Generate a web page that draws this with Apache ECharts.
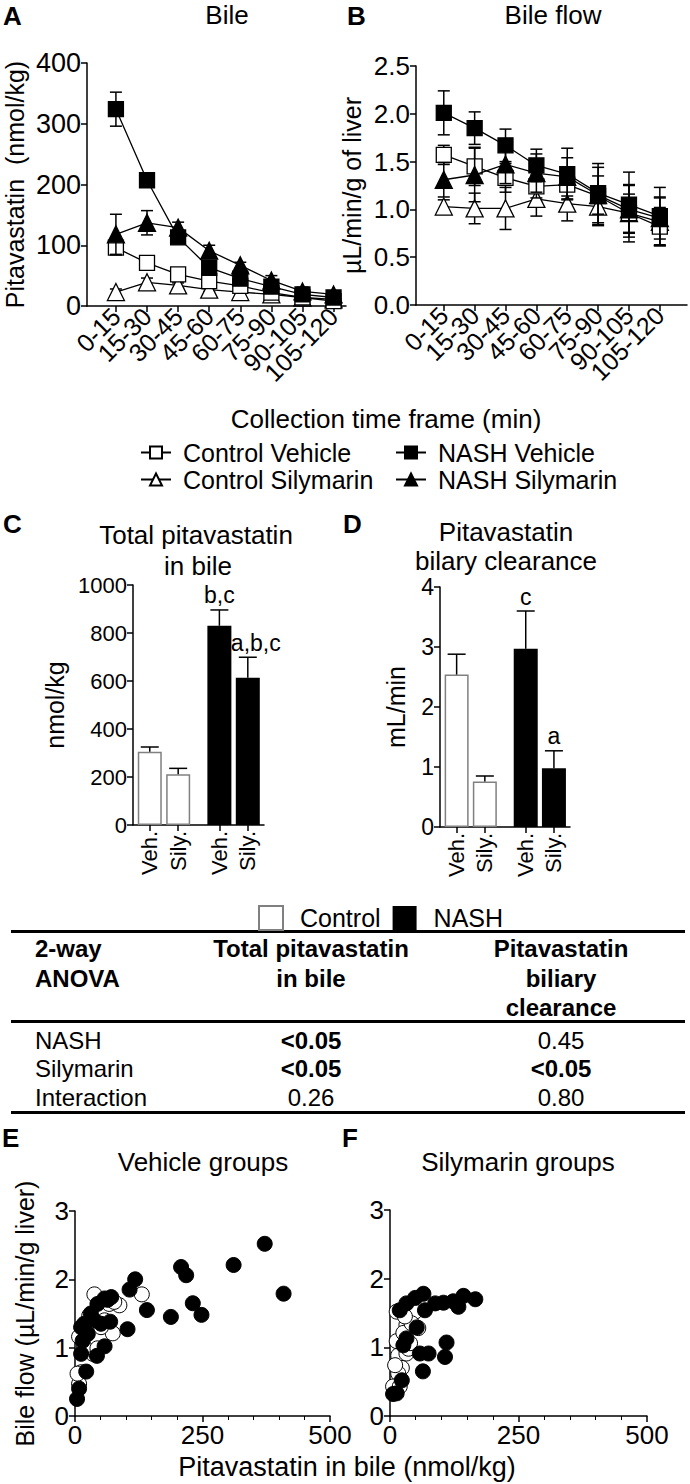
<!DOCTYPE html>
<html>
<head>
<meta charset="utf-8">
<script src="https://cdn.jsdelivr.net/npm/echarts@6/dist/echarts.min.js"></script>
<style>
html, body { margin: 0; padding: 0; background: #fff; }
#fig { width: 690px; height: 1484px; }
</style>
</head>
<body>
<div id="fig"></div>
<script>
// ---- data ----
var timeFrames = ['0-15', '15-30', '30-45', '45-60', '60-75', '75-90', '90-105', '105-120'];

// A: pitavastatin in bile (nmol/kg), mean and SEM
var ctrlVehA = [96, 71, 52, 41, 33, 22, 14, 8];
var ctrlVehASem = [12, 4, 4, 3, 3, 3, 2, 2];
var ctrlSilA = [23, 39, 34, 27, 23, 19, 14, 11];
var ctrlSilASem = [5, 7, 4, 3, 3, 2, 2, 2];
var nashVehA = [324, 207, 113, 63, 45, 32, 19, 14];
var nashVehASem = [28, 6, 6, 5, 5, 4, 3, 2];
var nashSilA = [118, 137, 129, 91, 67, 42, 24, 19];
var nashSilASem = [33, 20, 9, 9, 5, 8, 7, 4];

// B: bile flow (uL/min/g liver)
var ctrlVehB = [1.57, 1.45, 1.33, 1.24, 1.26, 1.14, 0.96, 0.82];
var ctrlVehBSem = [0.1, 0.2, 0.15, 0.12, 0.15, 0.3, 0.3, 0.2];
var ctrlSilB = [1.03, 1.01, 1.01, 1.11, 1.06, 1.03, 0.96, 0.87];
var ctrlSilBSem = [0.07, 0.16, 0.22, 0.18, 0.18, 0.2, 0.2, 0.25];
var nashVehB = [2.01, 1.85, 1.67, 1.46, 1.37, 1.17, 1.05, 0.93];
var nashVehBSem = [0.23, 0.17, 0.17, 0.17, 0.27, 0.31, 0.34, 0.3];
var nashSilB = [1.31, 1.36, 1.47, 1.38, 1.34, 1.15, 1.0, 0.91];
var nashSilBSem = [0.18, 0.28, 0.2, 0.2, 0.2, 0.2, 0.25, 0.22];

// C / D: bars (Control Veh, Control Sily, NASH Veh, NASH Sily)
var barGroups = ['Veh.', 'Sily.', 'Veh.', 'Sily.'];
var totalBile = [305, 211, 830, 614];
var totalBileSem = [20, 25, 66, 85];
var totalBileSig = ['', '', 'b,c', 'a,b,c'];
var clearance = [2.54, 0.76, 2.97, 0.98];
var clearanceSem = [0.34, 0.09, 0.63, 0.29];
var clearanceSig = ['', '', 'c', 'a'];

// table: 2-way ANOVA p values
var anovaFactors = ['NASH', 'Silymarin', 'Interaction'];
var pTotalBile = ['<0.05', '<0.05', '0.26'];
var pClearance = ['0.45', '<0.05', '0.80'];

// E / F: pitavastatin in bile (nmol/kg) vs bile flow
var eControl = [[38,1.78],[131,1.78],[87,1.62],[74,1.21],[51,1.3],[8,1.16],[12,0.64],[8,0.47],[35,0.91],[58,1.4],[67,1.64],[28,1.47],[77,1.67],[18,1.01],[44,0.99],[5,0.62],[22,1.28]];
var eNash = [[372,2.52],[311,2.21],[409,1.79],[208,2.18],[218,2.06],[231,1.65],[248,1.48],[188,1.45],[141,1.55],[118,2.0],[107,1.85],[103,1.27],[69,1.38],[58,1.02],[43,0.88],[22,0.65],[8,0.4],[4,0.25],[12,0.91],[15,1.1],[18,1.35],[31,1.5],[44,1.64],[58,1.72],[71,1.74],[51,1.35],[25,1.2],[38,1.4],[64,1.7],[12,1.3]];
var fControl = [[13,1.52],[49,1.52],[32,1.33],[55,1.28],[13,1.09],[16,0.88],[32,0.91],[23,0.7],[16,0.62],[6,0.43],[19,0.43],[36,0.98],[26,1.21],[42,1.35],[10,0.74],[29,1.45],[39,1.06]];
var fNash = [[166,1.7],[143,1.75],[133,1.59],[123,1.67],[104,1.65],[88,1.64],[68,1.54],[65,1.78],[49,1.72],[32,1.64],[19,1.54],[52,1.29],[32,1.13],[26,1.03],[110,1.07],[107,0.86],[75,0.91],[58,0.91],[64,0.65],[23,0.52],[6,0.32],[13,0.33]];

// ---- helpers ----
var FONT = "'Liberation Sans', Arial, Helvetica, sans-serif";

function txt(x, y, s, size, bold, align) {
	return {
		type: 'text', x: x, y: y, z: 100,
		style: {
			text: s, fill: '#000',
			font: (bold ? 'bold ' : '') + size + 'px ' + FONT,
			textAlign: align || 'center', align: align || 'center',
			textVerticalAlign: 'middle', verticalAlign: 'middle'
		}
	};
}

function axis(o) {
	var a = {
		type: 'value',
		axisLine: { show: true, onZero: false, lineStyle: { color: '#000', width: 1.5 } },
		axisTick: { show: true, length: 6, lineStyle: { color: '#000', width: 1.5 } },
		splitLine: { show: false },
		axisLabel: { color: '#000', fontFamily: FONT, fontSize: o.fontSize || 24, margin: 6,
			showMinLabel: true, showMaxLabel: true, hideOverlap: false },
		nameTextStyle: { color: '#000', fontFamily: FONT, fontSize: 25 }
	};
	for (var k in o) {
		if (k === 'axisLabel' || k === 'axisTick' || k === 'axisLine') {
			for (var j in o[k]) a[k][j] = o[k][j];
		} else if (k !== 'fontSize') {
			a[k] = o[k];
		}
	}
	return a;
}

// error bars; upOnly for the bar panels, letters written above the cap
function errBars(upOnly, cap, letters) {
	return function (params, api) {
		var x = api.value(0), m = api.value(1), e = api.value(2);
		var top = api.coord([x, m + e]);
		var bot = api.coord([x, upOnly ? m : m - e]);
		var st = { stroke: '#000', lineWidth: 1.5 };
		var kids = [
			{ type: 'line', shape: { x1: top[0], y1: top[1], x2: bot[0], y2: bot[1] }, style: st },
			{ type: 'line', shape: { x1: top[0] - cap, y1: top[1], x2: top[0] + cap, y2: top[1] }, style: st }
		];
		if (!upOnly) {
			kids.push({ type: 'line', shape: { x1: bot[0] - cap, y1: bot[1], x2: bot[0] + cap, y2: bot[1] }, style: st });
		}
		if (letters && letters[params.dataIndex]) {
			kids.push({
				type: 'text', x: top[0] + (letters[params.dataIndex].length > 3 ? 8 : 0), y: top[1] - 3,
				style: { text: letters[params.dataIndex], fill: '#000', font: '23px ' + FONT,
					textAlign: 'center', align: 'center', textVerticalAlign: 'bottom', verticalAlign: 'bottom' }
			});
		}
		return { type: 'group', children: kids };
	};
}

function pairs(vals, sems) {
	return vals.map(function (v, i) { return sems ? [i, v, sems[i]] : [i, v]; });
}

var groupsA = [
	{ name: 'Control Silymarin', symbol: 'triangle', size: 17, fill: '#fff', a: ctrlSilA, as: ctrlSilASem, b: ctrlSilB, bs: ctrlSilBSem },
	{ name: 'Control Vehicle', symbol: 'rect', size: 15, fill: '#fff', a: ctrlVehA, as: ctrlVehASem, b: ctrlVehB, bs: ctrlVehBSem },
	{ name: 'NASH Silymarin', symbol: 'triangle', size: 17, fill: '#000', a: nashSilA, as: nashSilASem, b: nashSilB, bs: nashSilBSem },
	{ name: 'NASH Vehicle', symbol: 'rect', size: 15, fill: '#000', a: nashVehA, as: nashVehASem, b: nashVehB, bs: nashVehBSem }
];

var series = [];
groupsA.forEach(function (g, gi) {
	[['a', 'as', 0], ['b', 'bs', 1]].forEach(function (p) {
		series.push({
			type: 'custom', xAxisIndex: p[2], yAxisIndex: p[2], z: 2 + gi * 2,
			renderItem: errBars(false, 6), data: pairs(g[p[0]], g[p[1]]), silent: true
		});
		series.push({
			name: g.name, type: 'line', xAxisIndex: p[2], yAxisIndex: p[2], z: 3 + gi * 2,
			data: pairs(g[p[0]]), symbol: g.symbol, symbolSize: g.size,
			itemStyle: { color: g.fill, borderColor: '#000', borderWidth: 1.3, opacity: 1 },
			lineStyle: { color: '#000', width: 1.3 },
			emphasis: { disabled: true }
		});
	});
});

function barPos(i) { return i + (i >= 2 ? 0.45 : 0); }

function barSeries(vals, sems, sig, ax) {
	var ctrl = [], nash = [], err = [];
	vals.forEach(function (v, i) {
		(i < 2 ? ctrl : nash).push([barPos(i), v]);
		err.push([barPos(i), v, sems[i]]);
	});
	series.push({ name: 'Control', type: 'bar', xAxisIndex: ax, yAxisIndex: ax, data: ctrl, barWidth: 24, barGap: '-100%',
		itemStyle: { color: '#fff', borderColor: '#808080', borderWidth: 1.5 }, emphasis: { disabled: true } });
	series.push({ name: 'NASH', type: 'bar', xAxisIndex: ax, yAxisIndex: ax, data: nash, barWidth: 24, barGap: '-100%',
		itemStyle: { color: '#000' }, emphasis: { disabled: true } });
	series.push({ type: 'custom', xAxisIndex: ax, yAxisIndex: ax, z: 5, silent: true,
		renderItem: errBars(true, 9, sig), data: err });
}
barSeries(totalBile, totalBileSem, totalBileSig, 2);
barSeries(clearance, clearanceSem, clearanceSig, 3);

function scatter(name, pts, ax, fill) {
	series.push({ name: name, type: 'scatter', xAxisIndex: ax, yAxisIndex: ax, data: pts, symbolSize: 15,
		itemStyle: { color: fill, borderColor: '#000', borderWidth: 1, opacity: 1 }, emphasis: { disabled: true } });
}
scatter('Control Vehicle', eControl, 4, '#fff');
scatter('NASH Vehicle', eNash, 4, '#000');
scatter('Control Silymarin', fControl, 5, '#fff');
scatter('NASH Silymarin', fNash, 5, '#000');

// time-frame labels are split over two stacked axes (even / odd) so that
// the big rotated labels are not dropped as overlapping
var evenIdx = [], oddIdx = [];
timeFrames.forEach(function (t, i) { (i % 2 ? oddIdx : evenIdx).push(i); });
var barIdx = barGroups.map(function (t, i) { return barPos(i); });

function catAxis(ax, min, max, idx, lineShow) {
	return axis({ gridIndex: ax, min: min, max: max, fontSize: 25, position: 'bottom', offset: 0,
		axisLine: { show: lineShow },
		axisTick: { customValues: idx },
		axisLabel: { customValues: idx, rotate: 45, margin: 6,
			formatter: function (v) { return timeFrames[Math.round(v)]; } } });
}
function barAxis(ax) {
	return axis({ gridIndex: ax, min: -0.59, max: 4.02, fontSize: 22,
		axisTick: { customValues: barIdx },
		axisLabel: { customValues: barIdx, rotate: 90, margin: 6,
			formatter: function (v) { return barGroups[barIdx.indexOf(v)]; } } });
}
function plain(v) { return String(v); }

var graphics = [
	txt(3, 16, 'A', 26, true, 'left'), txt(347, 16, 'B', 26, true, 'left'),
	txt(3, 524, 'C', 26, true, 'left'), txt(343, 524, 'D', 26, true, 'left'),
	txt(2, 1138, 'E', 26, true, 'left'), txt(342, 1138, 'F', 26, true, 'left'),
	txt(227, 15, 'Bile', 26), txt(553, 15, 'Bile flow', 26),
	txt(196, 535, 'Total pitavastatin', 26), txt(198, 566, 'in bile', 26),
	txt(506, 532, 'Pitavastatin', 26), txt(506, 561, 'bilary clearance', 26),
	txt(203, 1162, 'Vehicle groups', 26), txt(518, 1162, 'Silymarin groups', 26),
	txt(386, 419, 'Collection time frame (min)', 26),
	txt(347, 1467, 'Pitavastatin in bile (nmol/kg)', 27),
	// table
	{ type: 'rect', shape: { x: 11, y: 930, width: 674, height: 3 }, style: { fill: '#000' } },
	{ type: 'rect', shape: { x: 11, y: 1020, width: 674, height: 3 }, style: { fill: '#000' } },
	{ type: 'rect', shape: { x: 11, y: 1111, width: 674, height: 3 }, style: { fill: '#000' } },
	txt(35, 948, '2-way', 24, true, 'left'), txt(35, 978, 'ANOVA', 24, true, 'left'),
	txt(311, 948, 'Total pitavastatin', 24, true), txt(311, 978, 'in bile', 24, true),
	txt(561, 948, 'Pitavastatin', 24, true), txt(561, 978, 'biliary', 24, true), txt(561, 1007, 'clearance', 24, true)
];
anovaFactors.forEach(function (f, i) {
	var y = 1040 + i * 28.5;
	graphics.push(txt(35, y, f, 24, false, 'left'));
	graphics.push(txt(311, y, pTotalBile[i], 24, pTotalBile[i].charAt(0) === '<'));
	graphics.push(txt(561, y, pClearance[i], 24, pClearance[i].charAt(0) === '<'));
});

var chart = echarts.init(document.getElementById('fig'), null, { renderer: 'svg' });
chart.setOption({
	animation: false,
	textStyle: { fontFamily: FONT, color: '#000' },
	grid: [
		{ left: 87, top: 63, width: 259, height: 243 },
		{ left: 416, top: 66, width: 271, height: 239 },
		{ left: 133, top: 585, width: 131, height: 240 },
		{ left: 440, top: 587, width: 130, height: 240 },
		{ left: 75, top: 1211, width: 255, height: 205 },
		{ left: 390, top: 1210, width: 257, height: 206 }
	],
	xAxis: [
		catAxis(0, -0.93, 7.4, evenIdx, true),
		catAxis(1, -0.9, 7.88, evenIdx, true),
		barAxis(2),
		barAxis(3),
		axis({ gridIndex: 4, min: 0, max: 500, interval: 250, fontSize: 26, minorTick: { show: true, splitNumber: 5, length: 4, lineStyle: { color: '#000' } } }),
		axis({ gridIndex: 5, min: 0, max: 500, interval: 250, fontSize: 26, minorTick: { show: true, splitNumber: 5, length: 4, lineStyle: { color: '#000' } } }),
		catAxis(0, -0.93, 7.4, oddIdx, false),
		catAxis(1, -0.9, 7.88, oddIdx, false)
	],
	yAxis: [
		axis({ gridIndex: 0, min: 0, max: 400, interval: 100, fontSize: 27, name: 'Pitavastatin  (nmol/kg)', nameLocation: 'middle', nameGap: 60 }),
		axis({ gridIndex: 1, min: 0, max: 2.5, interval: 0.5, fontSize: 26, name: 'µL/min/g of liver', nameLocation: 'middle', nameGap: 52,
			axisLabel: { formatter: function (v) { return v.toFixed(1); } } }),
		axis({ gridIndex: 2, min: 0, max: 1000, interval: 200, fontSize: 22, name: 'nmol/kg', nameLocation: 'middle', nameGap: 66,
			axisLabel: { formatter: plain } }),
		axis({ gridIndex: 3, min: 0, max: 4, interval: 1, fontSize: 23, name: 'mL/min', nameLocation: 'middle', nameGap: 32 }),
		axis({ gridIndex: 4, min: 0, max: 3, interval: 1, fontSize: 26, name: 'Bile flow (µL/min/g liver)', nameLocation: 'middle', nameGap: 38 }),
		axis({ gridIndex: 5, min: 0, max: 3, interval: 1, fontSize: 26 })
	],
	legend: [
		{ data: ['Control Vehicle', 'Control Silymarin'], orient: 'vertical', left: 135, top: 435, itemGap: 2,
			itemWidth: 30, itemHeight: 15, textStyle: { fontSize: 25, fontFamily: FONT, color: '#000', padding: [0, 0, 0, 7] } },
		{ data: ['NASH Vehicle', 'NASH Silymarin'], orient: 'vertical', left: 390, top: 435, itemGap: 2,
			itemWidth: 30, itemHeight: 15, textStyle: { fontSize: 25, fontFamily: FONT, color: '#000', padding: [0, 0, 0, 7] } },
		{ data: ['Control', 'NASH'], left: 253, top: 900, itemGap: 12, icon: 'rect',
			itemWidth: 24, itemHeight: 24, textStyle: { fontSize: 25, fontFamily: FONT, color: '#000', padding: [0, 0, 0, 12] } }
	],
	graphic: graphics,
	series: series
});
</script>
</body>
</html>
